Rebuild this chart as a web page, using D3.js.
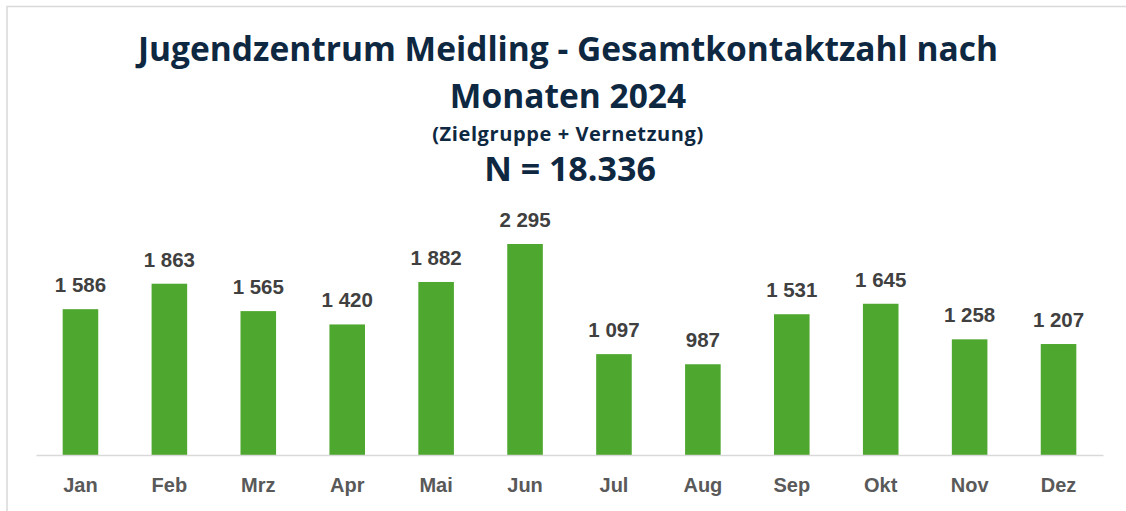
<!DOCTYPE html>
<html>
<head>
<meta charset="utf-8">
<script src="https://cdn.jsdelivr.net/npm/d3@7"></script>
<style>
  body { margin: 0; background: #fff; }
  svg { display: block; }
</style>
</head>
<body>
<div id="chart"></div>
<script>
const width = 1126;
const height = 511;

const months = ['Jan', 'Feb', 'Mrz', 'Apr', 'Mai', 'Jun', 'Jul', 'Aug', 'Sep', 'Okt', 'Nov', 'Dez'];
const contacts = [1586, 1863, 1565, 1420, 1882, 2295, 1097, 987, 1531, 1645, 1258, 1207];
const titleLines = ['Jugendzentrum Meidling - Gesamtkontaktzahl nach', 'Monaten 2024'];
const subtitle = '(Zielgruppe + Vernetzung)';
const totalLabel = 'N = 18.336';

const data = months.map((m, i) => ({ month: m, value: contacts[i] }));

const svg = d3.select('#chart')
  .append('svg')
  .attr('width', width)
  .attr('height', height);

// chart frame (runs off the right/bottom edge like the screenshot)
svg.append('rect')
  .attr('x', 7)
  .attr('y', 6.5)
  .attr('width', 1130)
  .attr('height', 520)
  .attr('fill', '#fff')
  .attr('stroke', '#d9d9d9')
  .attr('stroke-width', 1.5);

const titleFont = "'Open Sans', 'Liberation Sans', sans-serif";
const labelFont = "'Liberation Sans', Arial, sans-serif";

// titles
svg.selectAll('.title')
  .data(titleLines)
  .join('text')
  .attr('class', 'title')
  .text(d => d)
  .attr('x', 568)
  .attr('y', (d, i) => 61 + i * 47)
  .attr('text-anchor', 'middle')
  .attr('font-family', titleFont)
  .attr('font-weight', 700)
  .attr('font-size', 33.5)
  .attr('fill', '#0e2841');

svg.append('text')
  .text(subtitle)
  .attr('x', 568)
  .attr('y', 141)
  .attr('text-anchor', 'middle')
  .attr('font-family', titleFont)
  .attr('font-weight', 700)
  .attr('font-size', 20)
  .attr('letter-spacing', 0.6)
  .attr('fill', '#0e2841');

svg.append('text')
  .text(totalLabel)
  .attr('x', 570)
  .attr('y', 181)
  .attr('text-anchor', 'middle')
  .attr('font-family', titleFont)
  .attr('font-weight', 700)
  .attr('font-size', 34)
  .attr('fill', '#0e2841');

const x = d3.scaleBand()
  .domain(months)
  .range([36, 1103])
  .paddingInner(0.6)
  .paddingOuter(0.3);

const y = d3.scaleLinear()
  .domain([0, 2295])
  .range([455, 244]);

svg.selectAll('.bar')
  .data(data)
  .join('rect')
  .attr('class', 'bar')
  .attr('x', d => x(d.month))
  .attr('y', d => y(d.value))
  .attr('width', x.bandwidth())
  .attr('height', d => y(0) - y(d.value))
  .attr('fill', '#4ea72e');

// baseline + month labels
const xAxisG = svg.append('g')
  .attr('transform', `translate(0, ${y(0)})`)
  .call(d3.axisBottom(x).tickSize(0).tickPadding(23));

xAxisG.select('.domain')
  .attr('stroke', '#d9d9d9')
  .attr('stroke-width', 1.5);

xAxisG.selectAll('text')
  .attr('font-family', labelFont)
  .attr('font-weight', 700)
  .attr('font-size', 20)
  .attr('fill', '#595959');

svg.selectAll('.value')
  .data(data)
  .join('text')
  .attr('class', 'value')
  .text(d => d3.format(',')(d.value).replace(',', ' '))
  .attr('x', d => x(d.month) + x.bandwidth() / 2)
  .attr('y', d => y(d.value) - 17)
  .attr('text-anchor', 'middle')
  .attr('font-family', labelFont)
  .attr('font-weight', 700)
  .attr('font-size', 20.5)
  .attr('fill', '#404040');
</script>
</body>
</html>
